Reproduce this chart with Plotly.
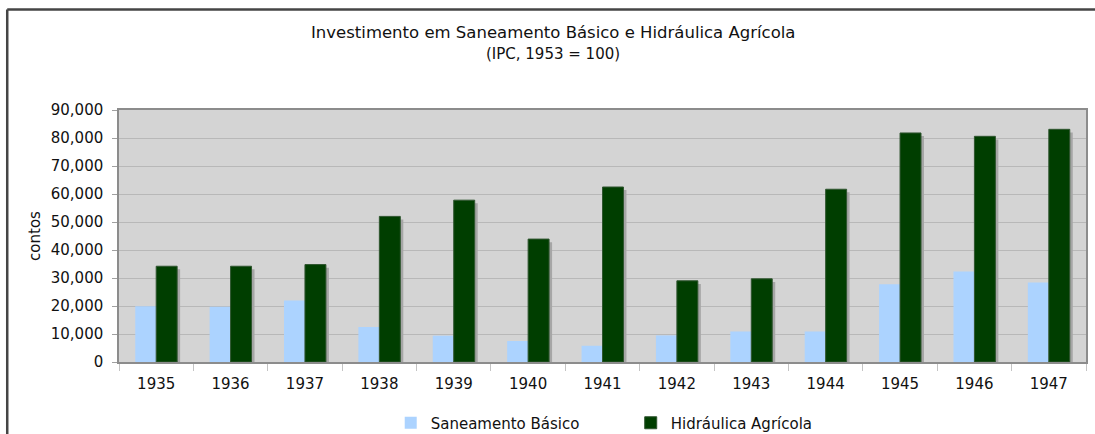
import plotly.graph_objects as go

years = ["1935", "1936", "1937", "1938", "1939", "1940", "1941",
         "1942", "1943", "1944", "1945", "1946", "1947"]
saneamento = [19900, 19700, 22000, 12500, 9400, 7500, 5800,
              9500, 10900, 10900, 27800, 32300, 28400]
hidraulica = [34200, 34200, 34800, 52000, 57800, 43900, 62500,
              29000, 29700, 61700, 81800, 80600, 83100]
y_ticks = [0, 10000, 20000, 30000, 40000, 50000, 60000, 70000, 80000, 90000]

W, H = 1095, 434
L, R, T, B = 119, 7, 110, 72
pw, ph = W - L - R, H - T - B
cat_px = pw / len(years)
bar_w = 21 / cat_px
FONT = "DejaVu Sans"

fig = go.Figure()
# shadow behind the green bars
fig.add_trace(go.Bar(
    x=years, y=hidraulica, base=-1100, width=bar_w, offset=3 / cat_px,
    marker=dict(color="#a6a6a6", line=dict(width=0)),
    showlegend=False, hoverinfo="skip"))
fig.add_trace(go.Bar(
    x=years, y=saneamento, name="Saneamento Básico", width=bar_w, offset=-bar_w,
    marker=dict(color="#acd3ff", line=dict(width=0))))
fig.add_trace(go.Bar(
    x=years, y=hidraulica, name="Hidráulica Agrícola", width=bar_w, offset=0,
    marker=dict(color="#003e00", line=dict(color="#2f552f", width=1))))

def px_x(p):
    return (p - L) / pw

def px_y(p):
    return (H - B - p) / ph

fig.update_layout(
    width=W, height=H,
    margin=dict(l=L, r=R, t=T, b=B, pad=0),
    paper_bgcolor="white", plot_bgcolor="#d4d4d4",
    barmode="overlay",
    font=dict(family=FONT, size=15, color="#111111"),
    showlegend=True,
    legend=dict(orientation="h", x=0.576, xanchor="center", xref="container",
                y=1 - 423 / H, yref="container", yanchor="middle",
                font=dict(family=FONT, size=15, color="#111111"),
                traceorder="normal", entrywidth=195, itemwidth=30,
                bgcolor="rgba(0,0,0,0)"),
    xaxis=dict(type="category", showgrid=False, showline=True, linecolor="#8c8c8c",
               linewidth=1.5, mirror=True, ticks="outside", tickson="boundaries",
               ticklen=7, tickcolor="#c4c4c4", tickfont=dict(size=15),
               ticklabelstandoff=7),
    yaxis=dict(range=[0, 90000], tickvals=y_ticks, tickformat=",d",
               showgrid=True, gridcolor="#b8b8b8", gridwidth=1,
               showline=True, linecolor="#8c8c8c", linewidth=1.5, mirror=True,
               ticks="outside", ticklen=5, tickcolor="#a0a0a0",
               tickfont=dict(size=15), ticklabelstandoff=6,
               zeroline=False,
               title=dict(text="contos", font=dict(size=15), standoff=7)),
    annotations=[
        dict(text="Investimento em Saneamento Básico e Hidráulica Agrícola",
             xref="paper", yref="paper", x=px_x(554), y=px_y(32),
             xanchor="center", yanchor="middle", showarrow=False,
             font=dict(family=FONT, size=16.5, color="#111111")),
        dict(text="(IPC, 1953 = 100)",
             xref="paper", yref="paper", x=px_x(554), y=px_y(54),
             xanchor="center", yanchor="middle", showarrow=False,
             font=dict(family=FONT, size=15, color="#111111")),
    ],
    shapes=[
        dict(type="line", xref="paper", yref="paper",
             x0=px_x(7), x1=px_x(W + 5), y0=px_y(9.5), y1=px_y(9.5),
             line=dict(color="#454545", width=2.5)),
        dict(type="line", xref="paper", yref="paper",
             x0=px_x(7), x1=px_x(7), y0=px_y(9.5), y1=px_y(H + 5),
             line=dict(color="#454545", width=2.5)),
    ],
)

fig.write_html("out.html",
               config={"displayModeBar": False},
               post_script="document.body.style.margin='0';"
                           "document.body.style.overflow='hidden';")
